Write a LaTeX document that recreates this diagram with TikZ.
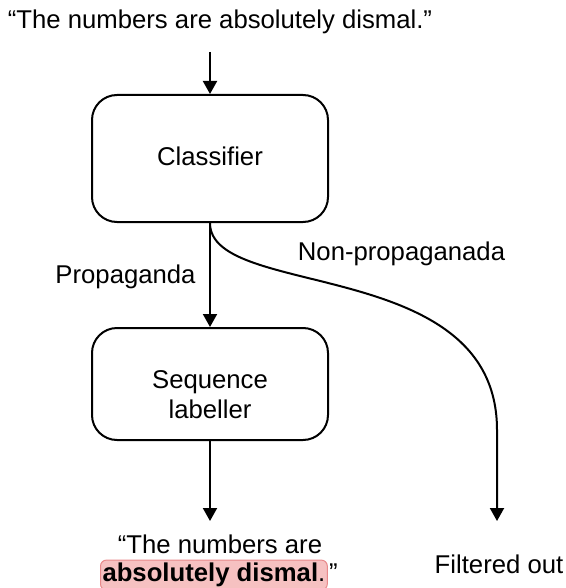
\documentclass[tikz,border=0pt]{standalone}
\usepackage{fontspec}
\setmainfont{Liberation Sans}
\usetikzlibrary{arrows.meta}
\definecolor{hlfill}{HTML}{F6C1C1}
\definecolor{hldraw}{HTML}{E8898A}
\tikzset{
  txt/.style={inner sep=0pt, anchor=base, font=\fontsize{25.7}{30}\selectfont},
  procbox/.style={draw, line width=2pt, rounded corners=25pt, minimum width=236pt, inner sep=0pt},
  conn/.style={line width=2pt, -{Triangle[width=14pt,length=13pt]}},
  hl/.style={fill=hlfill, draw=hldraw, line width=1pt, rounded corners=6pt, inner xsep=2pt, inner ysep=3pt}
}
\begin{document}
\begin{tikzpicture}[x=1pt,y=-1pt]
\useasboundingbox (0,0) rectangle (565,588);
\node[txt] (in) at (220,29) {“The numbers are absolutely dismal.”};
\node[procbox, minimum height=127pt] (cls) at (210,158.5) {};
\node[txt] (clst) at (210,165) {Classifier};
\node[procbox, minimum height=112pt] (seq) at (210,384) {};
\node[txt, align=center] (seqt) at (210,418) {Sequence\\labeller};
\coordinate (intop) at (210,52);
\coordinate (outend) at (210,521);
\coordinate (filtend) at (497,521);
\draw[conn] (intop) -- (cls.north);
\draw[conn] (cls.south) -- (seq.north);
\draw[conn] (seq.south) -- (outend);
\draw[conn] (cls.south) .. controls (210,300) and (497,255) .. (497,430) -- (filtend);
\node[txt] (prop) at (125.5,283.3) {Propaganda};
\node[txt] (nonprop) at (401.5,260) {Non-propaganada};
\node[txt] (out1) at (220,553) {“The numbers are};
\node[txt, hl, anchor=base west] (out2) at (100,581.7) {\textbf{absolutely dismal}.};
\node[txt, anchor=base west] (out3) at ([xshift=1pt]out2.east |- out2.base) {”};
\node[txt] (filt) at (499,573) {Filtered out};
\end{tikzpicture}
\end{document}
